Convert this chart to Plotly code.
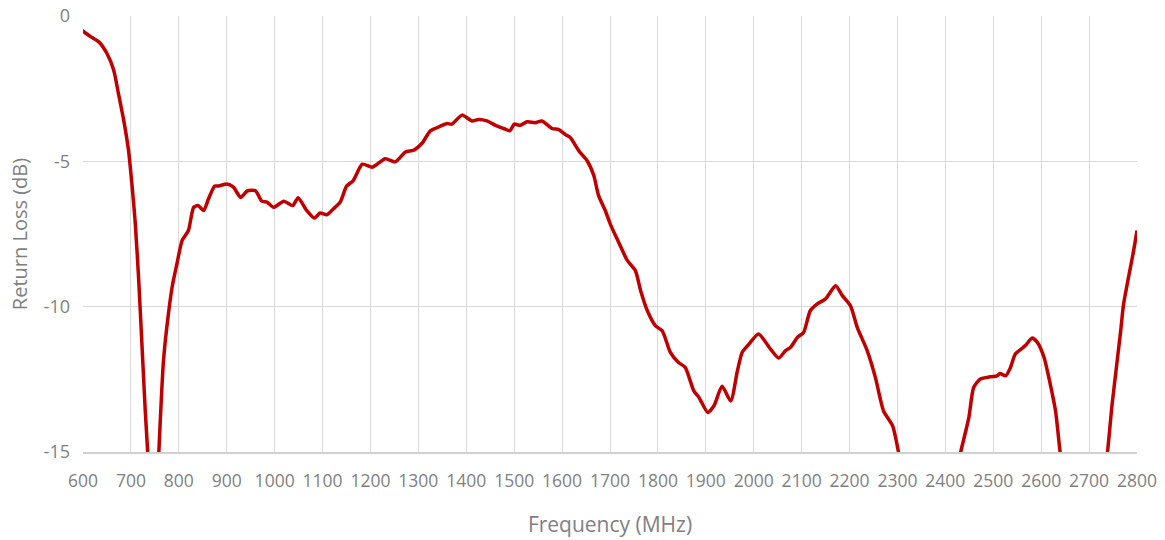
import plotly.graph_objects as go

freq_mhz = [598, 615, 633, 650, 664, 674, 685, 695, 702, 709, 716, 723, 730, 736, 741, 746, 752, 758,
            764, 768, 775, 786, 796, 807, 820, 831, 840, 852, 862, 875, 883, 900, 914, 929, 943, 960,
            973, 984, 998, 1019, 1038, 1049, 1067, 1083, 1095, 1109, 1123, 1137, 1150, 1164, 1183,
            1204, 1231, 1252, 1273, 1290, 1308, 1325, 1346, 1360, 1370, 1391, 1412, 1426, 1443, 1461,
            1478, 1491, 1500, 1513, 1527, 1544, 1558, 1579, 1593, 1607, 1617, 1635, 1652, 1666, 1676,
            1690, 1702, 1718, 1736, 1753, 1764, 1778, 1795, 1809, 1826, 1843, 1857, 1875, 1886, 1904,
            1917, 1934, 1952, 1966, 1976, 1990, 2010, 2035, 2052, 2066, 2077, 2091, 2104, 2118, 2132,
            2150, 2171, 2185, 2202, 2216, 2237, 2254, 2271, 2290, 2303, 2330, 2365, 2400, 2431, 2449,
            2459, 2473, 2494, 2508, 2514, 2526, 2536, 2546, 2567, 2581, 2592, 2606, 2619, 2630, 2640,
            2665, 2690, 2715, 2738, 2748, 2766, 2772, 2793, 2800]
return_loss_db = [-0.5, -0.7, -0.89, -1.29, -1.86, -2.67, -3.59, -4.62, -5.77, -7.1, -9.0, -11.3, -13.6,
                  -15.3, -17.5, -19.0, -17.5, -15.1, -13.0, -11.86, -10.7, -9.33, -8.53, -7.72, -7.38,
                  -6.58, -6.52, -6.69, -6.29, -5.85, -5.85, -5.78, -5.89, -6.24, -6.02, -6.01, -6.37,
                  -6.4, -6.58, -6.37, -6.52, -6.25, -6.69, -6.95, -6.78, -6.84, -6.63, -6.4, -5.86,
                  -5.66, -5.1, -5.2, -4.91, -5.02, -4.68, -4.62, -4.37, -3.95, -3.79, -3.70, -3.72,
                  -3.41, -3.61, -3.56, -3.61, -3.76, -3.87, -3.95, -3.72, -3.76, -3.64, -3.67, -3.61,
                  -3.87, -3.91, -4.08, -4.18, -4.64, -4.97, -5.48, -6.17, -6.69, -7.21, -7.78, -8.41,
                  -8.76, -9.45, -10.14, -10.66, -10.83, -11.57, -11.92, -12.09, -12.9, -13.13, -13.64,
                  -13.41, -12.74, -13.25, -12.2, -11.57, -11.29, -10.94, -11.46, -11.77, -11.52, -11.4,
                  -11.06, -10.89, -10.14, -9.91, -9.73, -9.28, -9.62, -9.97, -10.71, -11.52, -12.44,
                  -13.59, -14.1, -15.07, -17.5, -18.5, -17.5, -15.07, -13.82, -12.78, -12.49, -12.41,
                  -12.38, -12.3, -12.38, -12.09, -11.63, -11.34, -11.08, -11.23, -11.75, -12.67, -13.59,
                  -15.07, -18.0, -19.0, -18.0, -15.07, -13.36, -10.83, -9.91, -8.07, -7.38]

x_ticks = list(range(600, 2801, 100))
y_ticks = [0, -5, -10, -15]

font_family = "Open Sans, Liberation Sans, sans-serif"
grey = "#7f7f7f"

fig = go.Figure()
fig.add_trace(go.Scatter(
    x=freq_mhz, y=return_loss_db, mode="lines",
    line=dict(color="#C00000", width=3.5, shape="spline", smoothing=0.6),
    showlegend=False, hoverinfo="x+y",
))

fig.update_layout(
    width=1165, height=540,
    margin=dict(l=83, r=28, t=16, b=88),
    plot_bgcolor="white", paper_bgcolor="white",
    font=dict(family=font_family, color=grey),
    xaxis=dict(
        range=[600, 2800], tickvals=x_ticks, ticktext=[str(v) for v in x_ticks],
        showgrid=True, gridcolor="#d9d9d9", gridwidth=1,
        showline=True, linecolor="#d0d0d0", linewidth=1.5,
        zeroline=False, ticks="", tickfont=dict(size=17.5, color=grey),
        ticklabelstandoff=12, tickangle=0, automargin=False, ticklabeloverflow="allow",
        title=dict(text="Frequency (MHz)", font=dict(size=21, color=grey), standoff=27),
    ),
    yaxis=dict(
        range=[-15, 0], tickvals=y_ticks, ticktext=[str(v) for v in y_ticks],
        showgrid=True, gridcolor="#d9d9d9", gridwidth=1,
        showline=False, zeroline=False, ticks="", automargin=False, ticklabeloverflow="allow",
        tickfont=dict(size=18, color=grey), ticklabelstandoff=12,
        title=dict(text="Return Loss (dB)", font=dict(size=20, color=grey), standoff=10),
    ),
)

fig.write_html(
    "out.html",
    config={"displayModeBar": False},
    post_script="document.body.style.margin='0';document.body.style.overflow='hidden';",
)
